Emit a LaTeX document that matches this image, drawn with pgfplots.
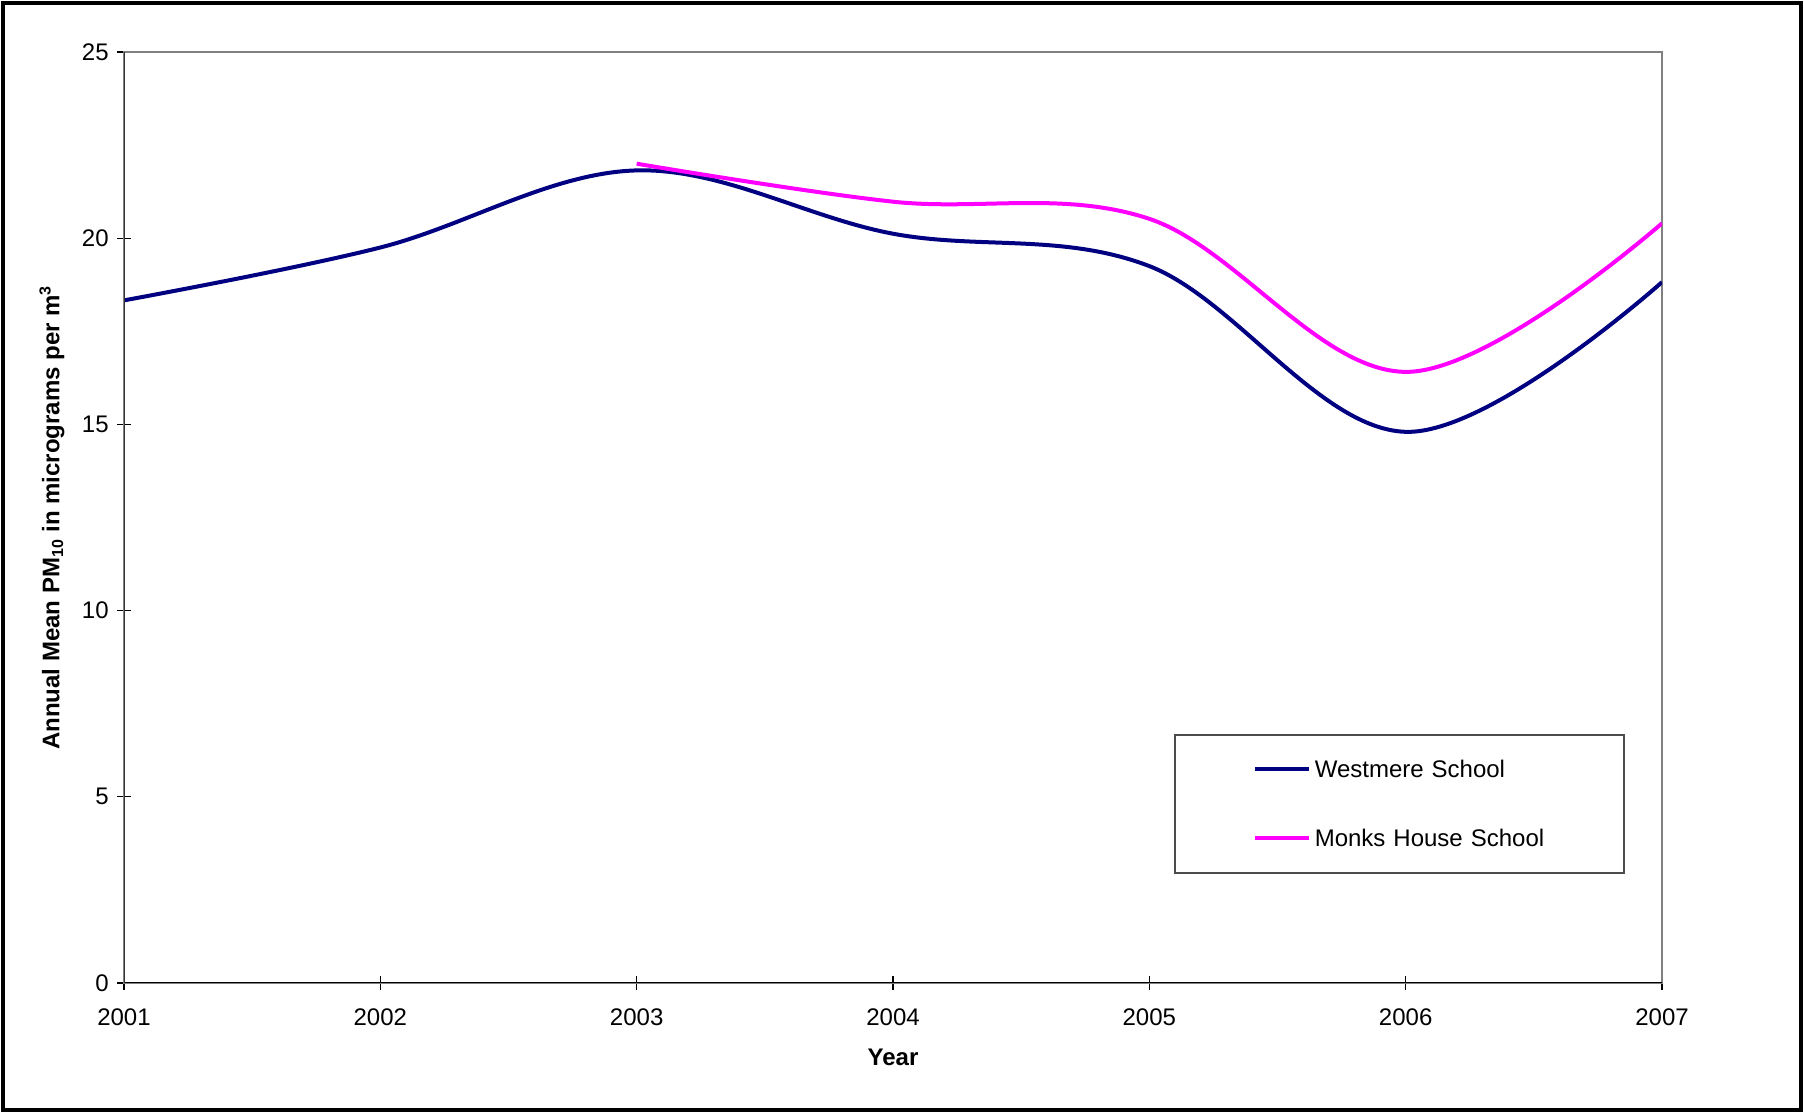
\documentclass[border=0pt]{standalone}
\usepackage{pgfplots}
\pgfplotsset{compat=1.18}
\usepackage{fontspec}
\setmainfont{Liberation Sans}
\definecolor{westc}{RGB}{0,0,128}
\definecolor{monkc}{RGB}{255,0,255}
\begin{document}
\fontsize{12}{14}\selectfont
\begin{tikzpicture}
\useasboundingbox (0,0) rectangle (902pt,556.5pt);
\draw[line width=2pt] (1.5pt,1.5pt) rectangle (900.5pt,555pt);
\begin{axis}[
  at={(62pt,65pt)}, anchor=south west,
  scale only axis, width=769pt, height=465.5pt,
  xmin=2001, xmax=2007, ymin=0, ymax=25,
  xtick={2001,2002,2003,2004,2005,2006,2007},
  ytick={0,5,10,15,20,25},
  /pgf/number format/assume math mode=true,
  xticklabel style={/pgf/number format/1000 sep=, yshift=-5pt},
  tick align=center, major tick length=7pt, tick pos=left,
  tick style={black, line width=0.6pt},
  axis line style={draw=gray, line width=0.8pt},
  ticklabel style={font=\fontsize{12}{14}\selectfont},
  xlabel={\textbf{Year}},
  ylabel={\textbf{Annual Mean PM\textsubscript{10} in micrograms per m\textsuperscript{3}}},
  xlabel style={at={(axis description cs:0.5,-0.0795)}, anchor=center},
  ylabel style={at={(axis description cs:-0.0468,0.5)}, anchor=center},
  legend style={at={(0.6827,0.2675)}, anchor=north west, draw=black!70, line width=0.8pt,
     inner xsep=0pt, inner ysep=0pt, row sep=0pt, column sep=2pt,
     nodes={inner sep=0pt, text width=154.5pt, align=left},
     font=\fontsize{12}{14}\selectfont},
  legend cell align=left,
  legend image code/.code={\path[draw=none,fill=none] (-40pt,-16.75pt) rectangle (27pt,17.75pt); \draw[#1] (0pt,0.5pt) -- (27pt,0.5pt);},
]
\addplot[westc, line width=2pt, smooth, tension=0.6] coordinates {
(2001,18.33) (2002,19.75) (2003,21.82) (2004,20.12) (2005,19.25) (2006,14.80) (2007,18.82)};
\addlegendentry{Westmere School}
\addplot[monkc, line width=2pt, smooth, tension=0.6] coordinates {
(2003,22.0) (2004,20.98) (2005,20.52) (2006,16.41) (2007,20.40)};
\addlegendentry{Monks House School}
\draw[black, line width=0.8pt] (rel axis cs:0,0) -- (rel axis cs:1,0);
\draw[black!80, line width=0.8pt] (rel axis cs:0,0) -- (rel axis cs:0,1);
\end{axis}
\end{tikzpicture}
\end{document}
